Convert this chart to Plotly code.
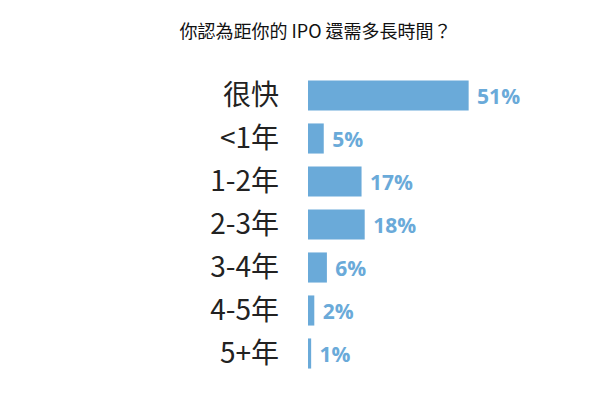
import plotly.graph_objects as go

# survey answers, top to bottom
categories = ["很快", "<1年", "1-2年", "2-3年", "3-4年", "4-5年", "5+年"]
percents = [51, 5, 17, 18, 6, 2, 1]
labels = [f" {p}%" for p in percents]

BLUE = "#6aaad9"

fig = go.Figure(
    go.Bar(
        x=percents,
        y=categories,
        orientation="h",
        marker=dict(color=BLUE, line=dict(width=0)),
        text=labels,
        textposition="outside",
        textfont=dict(family="Open Sans", size=21, color=BLUE, weight="bold"),
        cliponaxis=False,
    )
)

fig.update_layout(
    width=615,
    height=402,
    margin=dict(l=300, r=0, t=66, b=35, autoexpand=False),
    paper_bgcolor="white",
    plot_bgcolor="white",
    showlegend=False,
    bargap=0.3,
    title=dict(
        text="你認為距你的 IPO 還需多長時間？",
        x=0.5,
        xanchor="center",
        y=0.94,
        yanchor="middle",
        font=dict(family="Noto Sans CJK TC", size=18, color="#111"),
    ),
)
fig.update_xaxes(range=[0, 100], visible=False, automargin=False)
fig.update_yaxes(
    autorange="reversed",
    automargin=False,
    showgrid=False,
    showline=False,
    zeroline=False,
    ticks="",
    ticklabelstandoff=28,
    tickfont=dict(family="Noto Sans CJK TC", size=28, color="#222"),
)

fig.write_html("out.html")
